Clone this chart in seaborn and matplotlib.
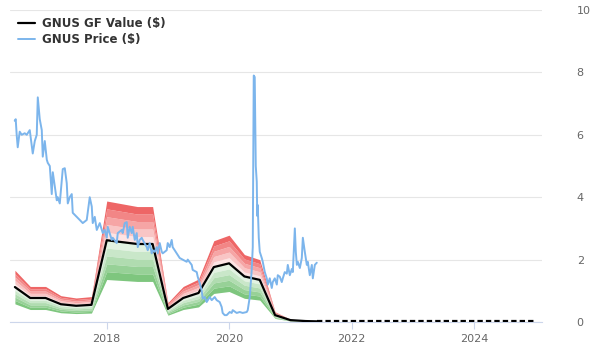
import numpy as np
import pandas as pd
import matplotlib
matplotlib.use("Agg")
import matplotlib.pyplot as plt
import matplotlib.dates as mdates
import seaborn as sns

# ---------------- data ----------------
price_years = [2016.497, 2016.513, 2016.529, 2016.546, 2016.578, 2016.611, 2016.66, 2016.693,
               2016.742, 2016.791, 2016.824, 2016.856, 2016.873, 2016.905, 2016.938, 2016.954,
               2016.987, 2017.020, 2017.036, 2017.069, 2017.101, 2017.118, 2017.183, 2017.199,
               2017.232, 2017.281, 2017.314, 2017.346, 2017.363, 2017.395, 2017.428, 2017.444,
               2017.510, 2017.559, 2017.608, 2017.673, 2017.722, 2017.755, 2017.771, 2017.804,
               2017.837, 2017.886, 2017.935, 2017.967, 2018.0, 2018.016, 2018.082, 2018.098,
               2018.163, 2018.180, 2018.245, 2018.261, 2018.294, 2018.327, 2018.343, 2018.376,
               2018.408, 2018.425, 2018.458, 2018.490, 2018.507, 2018.539, 2018.572, 2018.588,
               2018.654, 2018.670, 2018.703, 2018.735, 2018.752, 2018.784, 2018.817, 2018.833,
               2018.866, 2018.899, 2018.915, 2018.980, 2018.997, 2019.029, 2019.062, 2019.078,
               2019.144, 2019.193, 2019.242, 2019.307, 2019.324, 2019.389, 2019.405, 2019.471,
               2019.487, 2019.520, 2019.552, 2019.569, 2019.601, 2019.634, 2019.683, 2019.716,
               2019.765, 2019.797, 2019.846, 2019.879, 2019.895, 2019.928, 2019.961, 2020.010,
               2020.042, 2020.059, 2020.124, 2020.173, 2020.222, 2020.288, 2020.304, 2020.337,
               2020.369, 2020.386, 2020.402, 2020.418, 2020.435, 2020.451, 2020.459, 2020.467,
               2020.484, 2020.5, 2020.533, 2020.549, 2020.582, 2020.614, 2020.631, 2020.663,
               2020.696, 2020.712, 2020.745, 2020.778, 2020.794, 2020.827, 2020.859, 2020.876,
               2020.908, 2020.941, 2020.957, 2020.990, 2021.023, 2021.039, 2021.072, 2021.088,
               2021.105, 2021.121, 2021.154, 2021.186, 2021.203, 2021.235, 2021.268, 2021.284,
               2021.317, 2021.350, 2021.366, 2021.399, 2021.431]
price_values = [6.45, 6.5, 6.0, 5.6, 6.1, 6.0, 6.05, 6.0,
                6.15, 5.4, 5.8, 6.0, 7.2, 6.5, 6.15, 5.3,
                5.8, 5.2, 5.1, 5.0, 4.1, 4.8, 3.9, 4.0,
                3.8, 4.9, 4.93, 4.45, 3.8, 4.0, 4.1, 3.5,
                3.37, 3.27, 3.17, 3.27, 4.0, 3.7, 3.17, 3.37,
                2.95, 3.17, 2.85, 2.95, 2.7, 3.05, 2.63, 2.7,
                2.53, 2.85, 2.95, 2.85, 3.17, 3.2, 2.7, 3.05,
                2.85, 3.05, 2.63, 2.85, 2.4, 2.63, 2.7, 2.63,
                2.4, 2.3, 2.53, 2.2, 2.3, 2.25, 2.4, 2.2,
                2.53, 2.25, 2.2, 2.3, 2.53, 2.4, 2.63, 2.4,
                2.2, 2.05, 2.0, 1.93, 2.0, 1.83, 1.67, 1.6,
                1.45, 1.25, 1.0, 0.75, 0.8, 0.64, 0.8, 0.7,
                0.8, 0.7, 0.64, 0.48, 0.29, 0.22, 0.22, 0.32,
                0.29, 0.38, 0.29, 0.32, 0.29, 0.32, 0.38, 0.8,
                1.67, 2.4, 7.9, 7.85, 5.0, 4.5, 3.4, 3.75,
                2.7, 2.25, 2.05, 1.93, 1.6, 1.4, 1.2, 1.4,
                1.09, 1.28, 1.4, 1.2, 1.5, 1.45, 1.28, 1.4,
                1.6, 1.55, 1.83, 1.5, 1.7, 1.6, 3.0, 2.25,
                1.83, 1.93, 1.73, 2.05, 2.7, 2.25, 1.83, 1.93,
                1.5, 1.83, 1.4, 1.83, 1.9]

gf_years = [2016.5, 2016.75, 2017.0, 2017.25, 2017.5, 2017.75, 2018.0, 2018.25, 2018.5,
            2018.75, 2019.0, 2019.25, 2019.5, 2019.75, 2020.0, 2020.25, 2020.5, 2020.75,
            2021.0, 2021.25, 2021.44]
gf_values = [1.12, 0.77, 0.77, 0.57, 0.52, 0.55, 2.62, 2.56, 2.5,
             2.5, 0.42, 0.77, 0.93, 1.76, 1.88, 1.46, 1.35, 0.22,
             0.06, 0.03, 0.02]
gf_future_years = [2021.44, 2025.0]
gf_future_values = [0.02, 0.02]

band_upper_ratio = 1.48
band_lower_ratio = 0.52
n_bands = 5

y_ticks = [0, 2, 4, 6, 8, 10]
x_tick_years = [2018, 2020, 2022, 2024]


def to_dates(years):
    out = []
    for y in years:
        yi = int(np.floor(y))
        start = pd.Timestamp(year=yi, month=1, day=1)
        end = pd.Timestamp(year=yi + 1, month=1, day=1)
        out.append(start + (end - start) * (y - yi))
    return pd.to_datetime(out)


price_df = pd.DataFrame({"date": to_dates(price_years), "value": price_values})
gf_df = pd.DataFrame({"date": to_dates(gf_years), "value": gf_values})
fut_df = pd.DataFrame({"date": to_dates(gf_future_years), "value": gf_future_values})

# ---------------- plot ----------------
sns.set_theme(style="white")
plt.rcParams["font.family"] = ["DejaVu Sans"]

fig = plt.figure(figsize=(6, 3.6), dpi=100)
ax = fig.add_axes([10 / 600, 1 - 322 / 360, 532 / 600, 312 / 360])

gv = np.array(gf_values)
red_dark = np.array([238, 102, 102]) / 255
red_light = np.array([253, 228, 228]) / 255
green_dark = np.array([126, 198, 126]) / 255
green_light = np.array([226, 242, 226]) / 255
for i in range(n_bands):
    f0 = i / n_bands
    f1 = (i + 1) / n_bands
    t = i / (n_bands - 1)
    rc = red_light * (1 - t) + red_dark * t
    gc = green_light * (1 - t) + green_dark * t
    up0 = gv * (1 + (band_upper_ratio - 1) * f0)
    up1 = gv * (1 + (band_upper_ratio - 1) * f1)
    lo0 = gv * (1 - (1 - band_lower_ratio) * f0)
    lo1 = gv * (1 - (1 - band_lower_ratio) * f1)
    ax.fill_between(gf_df["date"], up0, up1, color=rc, linewidth=0, zorder=1)
    ax.fill_between(gf_df["date"], lo1, lo0, color=gc, linewidth=0, zorder=1)

sns.lineplot(data=gf_df, x="date", y="value", ax=ax, color="black", linewidth=1.6,
             label="GNUS GF Value ($)", zorder=3)
sns.lineplot(data=fut_df, x="date", y="value", ax=ax, color="black", linewidth=1.6,
             dashes=False, zorder=3)
ax.lines[-1].set_dashes([2.4, 1.4])
sns.lineplot(data=price_df, x="date", y="value", ax=ax, color="#7cb5ec", linewidth=1.4,
             label="GNUS Price ($)", zorder=4)

ax.set_xlim(to_dates([2016.42])[0], to_dates([2025.11])[0])
ax.set_ylim(0, 10)
ax.set_xlabel("")
ax.set_ylabel("")

ax.set_xticks(to_dates(x_tick_years))
ax.xaxis.set_major_formatter(mdates.DateFormatter("%Y"))
ax.set_yticks(y_ticks)
ax.yaxis.tick_right()
ax.grid(axis="y", color="#e6e6e6", linewidth=0.8)
ax.grid(axis="x", visible=False)
for s in ["top", "left", "right"]:
    ax.spines[s].set_visible(False)
ax.spines["bottom"].set_color("#ccd6eb")
ax.spines["bottom"].set_linewidth(0.8)
ax.tick_params(axis="x", colors="#666666", labelsize=8, length=5, width=0.8, pad=4,
               color="#ccd6eb", bottom=True)
ax.tick_params(axis="y", colors="#666666", labelsize=8, length=0, pad=25, right=True)
for lbl in ax.get_xticklabels() + ax.get_yticklabels():
    lbl.set_color("#666666")

leg = ax.legend(loc="upper left", bbox_to_anchor=(0.0, 1.003), frameon=False,
                prop={"weight": "bold", "size": 8.5}, handlelength=1.4,
                handletextpad=0.6, labelspacing=0.2, borderaxespad=0.3)
for t in leg.get_texts():
    t.set_color("#333333")

fig.savefig("out.png", dpi=100)
